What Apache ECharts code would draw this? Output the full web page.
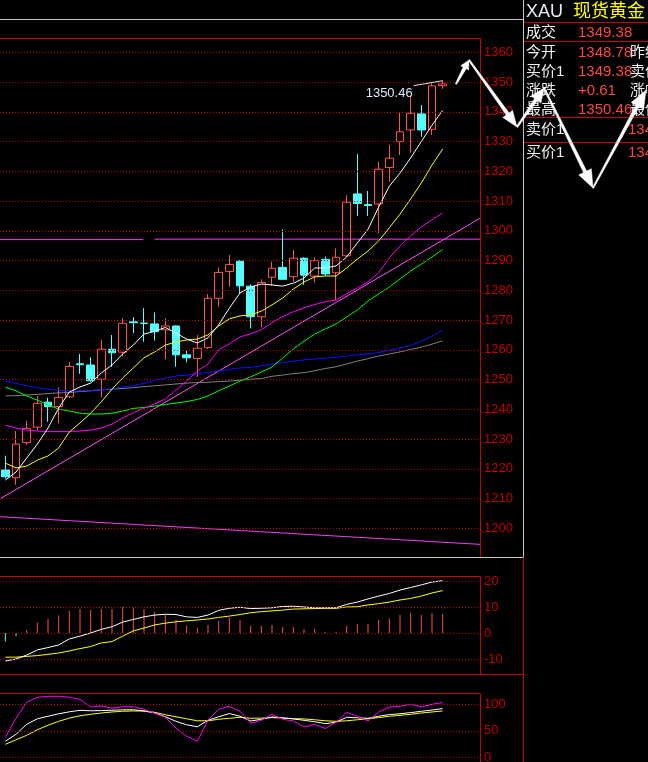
<!DOCTYPE html>
<html><head><meta charset="utf-8">
<script src="https://cdn.jsdelivr.net/npm/echarts@6.0.0/dist/echarts.min.js"></script>
<style>html,body{margin:0;padding:0;background:#000;overflow:hidden}#c{width:648px;height:762px}</style>
</head><body><div id="c"></div>
<script>
// ---------- data ----------
const categories = ['01','02','03','04','05','06','07','08','09','10','11','12','13','14','15','16','17','18','19','20','21','22','23','24','25','26','27','28','29','30','31','32','33','34','35','36','37','38','39','40','41','42','43','44','45'];
const openP  = [1219.6,1217.0,1228.8,1234.0,1242.4,1240.9,1244.2,1255.3,1254.9,1250.1,1260.2,1259.2,1269.4,1269.0,1268.7,1266.7,1268.0,1258.3,1257.1,1260.8,1277.3,1286.3,1289.8,1281.4,1271.1,1284.4,1287.7,1284.6,1290.8,1284.8,1290.4,1285.9,1291.6,1312.4,1308.8,1309.0,1321.3,1330.0,1333.9,1339.3,1334.1,1348.78];
const closeP = [1217.3,1228.3,1233.6,1242.0,1240.9,1244.0,1254.4,1255.0,1249.6,1260.2,1259.0,1268.9,1269.1,1268.8,1266.1,1268.0,1258.3,1257.3,1260.5,1277.3,1286.0,1288.7,1281.5,1271.1,1282.6,1287.4,1283.7,1290.8,1285.1,1290.0,1285.5,1291.1,1309.6,1309.2,1308.5,1320.7,1324.4,1333.3,1339.5,1333.9,1348.7,1349.38];
const lowP   = [1216.7,1214.6,1228.0,1233.0,1235.8,1235.3,1243.8,1251.9,1249.3,1244.0,1254.3,1257.7,1265.6,1262.7,1263.1,1256.8,1254.3,1255.7,1250.9,1260.3,1274.5,1281.2,1279.0,1267.2,1267.6,1281.5,1283.5,1282.9,1281.8,1282.6,1284.9,1276.5,1291.1,1305.0,1305.0,1299.2,1316.5,1325.5,1326.3,1331.6,1332.2,1347.7];
const highP  = [1224.4,1232.7,1236.1,1244.5,1243.9,1247.4,1255.9,1258.6,1257.5,1263.3,1265.0,1270.6,1271.0,1274.0,1272.6,1270.6,1268.2,1259.9,1265.0,1278.8,1287.7,1291.9,1290.1,1282.0,1283.7,1289.6,1300.5,1293.5,1291.1,1291.1,1291.3,1294.1,1312.0,1325.8,1313.4,1323.2,1328.8,1339.7,1345.1,1342.3,1349.6,1350.46];

const maWhite   = [1216.2,1218.9,1223.6,1228.3,1233.7,1240.4,1245.8,1247.5,1248.8,1252.2,1254.9,1258.6,1261.6,1265.3,1266.2,1267.5,1265.6,1263.6,1262.3,1264.0,1268.4,1274.0,1279.1,1281.1,1282.1,1281.8,1281.4,1282.4,1284.1,1287.5,1287.5,1288.2,1291.2,1295.9,1300.5,1308.0,1315.0,1319.4,1324.5,1330.0,1335.5,1340.5];
const maYellow  = [1221.9,1220.3,1220.9,1222.9,1224.3,1227.0,1232.4,1235.4,1238.7,1242.5,1246.8,1250.5,1253.9,1257.3,1259.3,1261.6,1262.6,1263.3,1263.6,1265.0,1268.0,1270.4,1271.4,1271.7,1273.0,1275.1,1277.4,1280.4,1282.8,1284.5,1284.8,1284.8,1287.5,1290.5,1293.2,1296.6,1301.0,1305.6,1310.7,1316.1,1322.1,1327.5];
const maMagenta = [1234.7,1233.7,1233.0,1232.7,1232.5,1232.5,1232.5,1232.7,1233.0,1233.7,1235.0,1237.1,1238.8,1240.4,1241.8,1243.5,1246.5,1249.5,1252.9,1255.2,1260.0,1262.0,1264.3,1265.4,1266.7,1269.1,1271.1,1272.8,1274.1,1275.2,1276.2,1276.7,1278.8,1280.8,1282.8,1285.9,1290.9,1294.9,1298.3,1301.3,1303.7,1306.0];
const maGreen   = [1247.5,1246.2,1244.5,1243.1,1241.4,1240.1,1239.4,1238.7,1238.4,1238.4,1238.7,1239.4,1240.3,1240.6,1241.1,1241.6,1242.1,1242.6,1243.3,1244.5,1246.2,1247.8,1249.5,1250.9,1252.5,1254.2,1257.2,1260.3,1262.9,1265.3,1267.0,1268.7,1271.0,1273.4,1276.4,1278.8,1281.1,1283.8,1286.5,1288.8,1291.2,1293.7];
const maBlue    = [1249.5,1248.7,1247.9,1247.2,1246.7,1246.4,1246.2,1246.2,1246.4,1246.5,1246.9,1247.5,1248.0,1248.7,1249.7,1250.5,1251.2,1251.5,1251.9,1252.4,1252.9,1253.4,1253.9,1254.1,1254.6,1255.2,1255.7,1256.2,1256.6,1256.9,1257.2,1257.5,1257.9,1258.3,1258.6,1259.1,1259.9,1260.6,1261.4,1262.9,1264.5,1266.7];
const maGray    = [1244.5,1244.6,1244.8,1245.0,1245.3,1245.5,1245.6,1246.0,1246.2,1246.5,1246.8,1247.0,1247.3,1247.6,1247.9,1248.2,1248.5,1248.8,1249.0,1249.1,1249.3,1249.5,1249.8,1250.1,1250.3,1251.1,1251.5,1252.0,1252.3,1253.0,1253.7,1254.3,1255.2,1256.2,1257.0,1257.9,1258.6,1259.3,1260.1,1260.9,1261.9,1263.0];

// drawn trend lines (x in candle index units, y in price)
const trendRiseX = [-0.5, 44.5];  const trendRiseY = [1209.9, 1304.2];
const trendFallX = [-0.5, 44.5];  const trendFallY = [1203.9, 1194.6];
const levelAX = [-0.5, 12.94];    const levelAY = [1297.05, 1297.05];
const levelBX = [13.97, 44.5];    const levelBY = [1297.2, 1297.2];

const macdBar = [-3.3,-1.2,1.2,4.0,5.4,6.7,8.6,9.2,8.8,9.2,9.2,10.1,9.7,9.2,8.2,7.2,5.0,2.8,2.0,3.1,4.6,5.9,5.0,2.7,2.7,3.1,2.3,2.3,1.5,1.5,0.5,0.5,2.7,3.5,3.5,5.0,5.6,6.9,7.7,6.9,7.7,7.3];
const difLine = [-10.8,-10.0,-8.5,-6.5,-5.6,-4.6,-2.3,-1.2,0,1.4,2.4,4.2,5.2,6.2,6.9,7.2,7.1,6.2,6.0,6.9,8.7,9.5,9.9,9.4,9.5,9.7,10.2,10.3,10.0,9.7,9.7,9.7,11.0,11.9,13.1,14.2,15.2,16.5,17.5,18.5,19.6,20.1];
const deaLine = [-9.3,-9.3,-9.0,-8.7,-8.2,-7.7,-6.9,-6.0,-5.2,-3.8,-3.3,-1.2,0.8,1.9,3.1,3.8,4.3,4.7,5.0,5.4,6.0,6.5,7.1,7.8,8.2,8.5,8.8,9.2,9.3,9.4,9.5,9.5,10.0,10.1,10.8,11.3,11.9,12.7,13.3,14.2,15.4,16.3];

const kLine = [30.2,43.4,62.3,72.6,77.4,82.1,85.8,88.7,87.7,88.1,88.7,89.6,89.6,87.4,83.6,76.4,67.9,61.3,57.5,69.8,76.4,82.5,77.4,68.5,71.7,76.0,74.5,72.3,69.8,67.0,63.6,66.0,75.5,74.5,73.6,77.4,80.6,82.1,84.3,86.8,89.2,91.9];
const dLine = [24.5,33.0,41.5,51.9,60.4,67.9,74.0,78.3,81.1,83.6,85.5,86.8,87.4,87.2,84.9,80.2,76.4,72.6,68.9,68.9,71.7,73.6,75.5,73.6,74.0,74.9,74.0,73.0,72.3,70.8,68.9,67.9,68.9,70.8,72.6,74.9,77.4,79.2,81.1,83.6,85.5,87.4];
const jLine = [37.7,73.6,103.8,113.2,115.1,115.1,113.2,109.4,94.9,96.8,92.5,95.3,95.3,90.6,83.0,75.5,54.7,39.6,30.2,69.8,90.6,96.2,86.8,64.2,69.8,81.1,71.7,68.5,57.2,62.3,54.2,66.0,84.9,77.4,68.5,85.5,94.9,96.2,100.0,94.9,100.0,103.2];

const yTicksMain = [1360,1350,1340,1330,1320,1310,1300,1290,1280,1270,1260,1250,1240,1230,1220,1210,1200];
const yTicksMacd = [20,10,0,-10];
const yTicksKdj  = [100,50,0];

const highLabel = '1350.46';
const infoTitleCode = 'XAU';
const infoTitleName = '现货黄金';
const infoLabels = ['成交','今开','买价1','涨跌','最高'];
const infoValues = ['1349.38','1348.78','1349.38','+0.61','1350.46'];
const infoLabels2 = ['','昨结','卖价','涨幅','最低'];
const bookLabels = ['卖价1','买价1'];
const bookValues = ['1349.68','1349.38'];

// ---------- chart ----------
const FONT = '"Liberation Sans","Noto Sans CJK SC",sans-serif';
const RED = '#c80000';
const chart = echarts.init(document.getElementById('c'), null, {renderer:'canvas', width:648, height:762});

function gridMarks(ticks){
  return {
    silent:true, symbol:['none','none'], animation:false,
    lineStyle:{type:[1,2], color:RED, width:1},
    label:{show:true, position:'end', distance:4, color:RED, fontSize:13, fontFamily:FONT, formatter:'{c}'},
    emphasis:{disabled:true},
    data: ticks.map(v => ({yAxis:v}))
  };
}
function lineS(name, data, color, xi, yi, extra){
  return Object.assign({name, type:'line', data, xAxisIndex:xi, yAxisIndex:yi, symbol:'none',
    lineStyle:{color, width:1}, itemStyle:{color}, silent:true, z:3}, extra||{});
}
function trend(xs, ys, color){
  return {type:'line', xAxisIndex:3, yAxisIndex:0, symbol:'none', silent:true, z:2,
    data: xs.map((x,i)=>[x, ys[i]]), lineStyle:{color, width:1}};
}

const candleData = openP.map((o,i)=>[o, closeP[i], lowP[i], highP[i]]);

const option = {
  backgroundColor:'#000',
  animation:false,
  textStyle:{fontFamily:FONT},
  grid:[
    {left:-2, right:168, top:38, height:519},
    {left:-2, right:168, top:576, height:98},
    {left:-2, right:168, top:693, height:69}
  ],
  xAxis:[
    {type:'category', gridIndex:0, data:categories, boundaryGap:true, show:false},
    {type:'category', gridIndex:1, data:categories, boundaryGap:true, show:false},
    {type:'category', gridIndex:2, data:categories, boundaryGap:true, show:false},
    {type:'value', gridIndex:0, min:-0.5, max:44.5, show:false}
  ],
  yAxis:[
    {type:'value', gridIndex:0, min:1190.35, max:1364.81, show:false, scale:true},
    {type:'value', gridIndex:1, min:-15.77, max:21.92, show:false},
    {type:'value', gridIndex:2, min:-8.9, max:121.3, show:false}
  ],
  series:[
    {type:'candlestick', name:'XAU', xAxisIndex:0, yAxisIndex:0, data:candleData, barWidth:8, silent:true, z:2,
      itemStyle:{color:'transparent', color0:'#54ffff', borderColor:'#ff5252', borderColor0:'#54ffff', borderWidth:1},
      markLine: gridMarks(yTicksMain)},
    trend(trendRiseX, trendRiseY, '#ff55ff'),
    trend(trendFallX, trendFallY, '#f040f0'),
    trend(levelAX, levelAY, '#ff30ff'),
    trend(levelBX, levelBY, '#ee44ee'),
    lineS('MAgray', maGray, '#808080', 0, 0),
    lineS('MAblue', maBlue, '#1010ff', 0, 0),
    lineS('MAgreen', maGreen, '#00ff00', 0, 0),
    lineS('MAmagenta', maMagenta, '#ff00ff', 0, 0),
    lineS('MAyellow', maYellow, '#ffff00', 0, 0),
    lineS('MAwhite', maWhite, '#ffffff', 0, 0),
    {type:'bar', name:'MACD', xAxisIndex:1, yAxisIndex:1, data:macdBar, barWidth:1, silent:true,
      itemStyle:{color:(p)=> p.value >= 0 ? '#ff5050' : '#54ffff'}},
    lineS('DEA', deaLine, '#ffff00', 1, 1),
    lineS('DIF', difLine, '#ffffff', 1, 1, {markLine: gridMarks(yTicksMacd)}),
    lineS('D', dLine, '#ffff00', 2, 2),
    lineS('K', kLine, '#ffffff', 2, 2),
    lineS('J', jLine, '#ff00ff', 2, 2, {markLine: gridMarks(yTicksKdj)})
  ]
};
chart.setOption(option);

// ---------- frame, info panel, annotations ----------
const G = [];
function ln(x1,y1,x2,y2,c){ G.push({type:'line', silent:true, z:50, shape:{x1,y1,x2,y2}, style:{stroke:c, lineWidth:1}}); }
function tx(t,x,y,c,size,align){ G.push({type:'text', silent:true, z:60, x, y,
  style:{text:t, fill:c, font:size+'px '+FONT, textAlign:align||'left', textVerticalAlign:'middle', align:align||'left', verticalAlign:'middle'}}); }

// outer frames
ln(0,19.5,523.5,19.5,'#c8c8c8');
ln(0,557.5,523.5,557.5,'#c8c8c8');
ln(523.5,0,523.5,557.5,'#c8c8c8');
ln(523.5,557.5,523.5,762,RED);
// main panel box
ln(0,38.5,480.5,38.5,RED);
ln(480.5,38.5,480.5,557,RED);
// MACD panel box
ln(0,576.5,480.5,576.5,RED);
ln(480.5,576.5,480.5,674,RED);
ln(0,674.5,524,674.5,RED);
// KDJ panel box
ln(0,693.5,480.5,693.5,RED);
ln(480.5,693.5,480.5,762,RED);
// info panel lines
[22.5,41.5,117.5,142.5].forEach(y=>ln(524,y,648,y,RED));

// info panel text
tx(infoTitleCode,526,12,'#e6ecf8',18);
tx(infoTitleName,573,12,'#ffff00',18);
const rowY = [33,52.5,71.5,90.5,109.5];
infoLabels.forEach((t,i)=>{ tx(t,526,rowY[i],'#f0f0f0',15); tx(infoValues[i],578,rowY[i],'#ff4646',15); if(infoLabels2[i]) tx(infoLabels2[i],630,rowY[i],'#f0f0f0',15); });
const bookY = [129.5,153];
bookLabels.forEach((t,i)=>{ tx(t,526,bookY[i],'#f0f0f0',15); tx(bookValues[i],628,bookY[i],'#ff4646',15); });

// highest price marker
const hp = chart.convertToPixel({xAxisIndex:0, yAxisIndex:0}, [41, highP[41]]);
G.push({type:'line', silent:true, z:55, shape:{x1:hp[0]-29, y1:hp[1]+5, x2:hp[0], y2:hp[1]}, style:{stroke:'#e8e8e8', lineWidth:1}});
tx(highLabel, hp[0]-30, hp[1]+13, '#dfeaff', 13, 'right');

// hand-drawn white arrows (annotation overlay)
const arrowPath = [[456,84],[469,60],[517,127],[544,88],[593,188],[646,90]];
const arrowHeads = [[9,4.5],[16,6],[14,6],[18,7],[18,7]];
function arrowPoly(a,b,w0,w1,hl,hw){
  const dx=b[0]-a[0], dy=b[1]-a[1], L=Math.hypot(dx,dy), ux=dx/L, uy=dy/L, nx=-uy, ny=ux;
  const hx=b[0]-ux*hl, hy=b[1]-uy*hl;
  return [[a[0]+nx*w0/2,a[1]+ny*w0/2],[hx+nx*w1/2,hy+ny*w1/2],[hx+nx*hw,hy+ny*hw],[b[0],b[1]],
          [hx-nx*hw,hy-ny*hw],[hx-nx*w1/2,hy-ny*w1/2],[a[0]-nx*w0/2,a[1]-ny*w0/2]];
}
for(let i=0;i<arrowPath.length-1;i++){
  G.push({type:'polygon', silent:true, z:90, shape:{points:arrowPoly(arrowPath[i],arrowPath[i+1],1.5,3.5,arrowHeads[i][0],arrowHeads[i][1])},
    style:{fill:'#ffffff', stroke:'#ffffff', lineWidth:0.5}});
}
chart.setOption({graphic:{elements:G}});
</script>
</body></html>
